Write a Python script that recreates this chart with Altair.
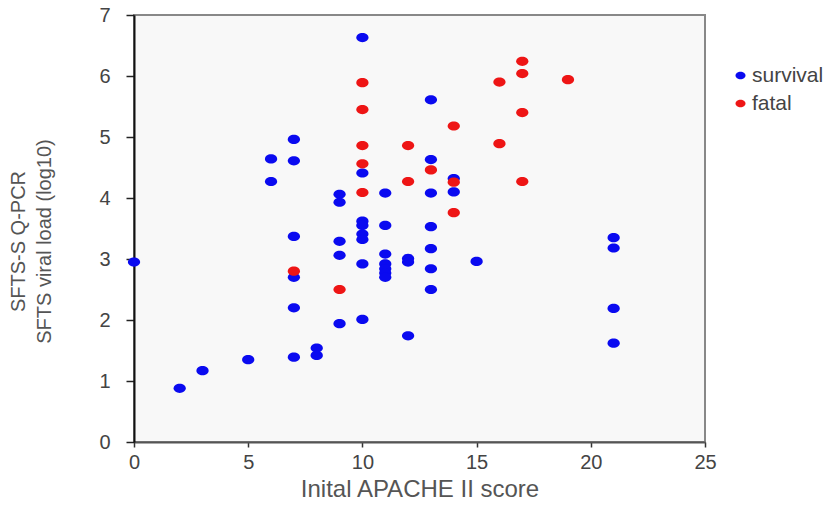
import altair as alt
import pandas as pd

# Survival (blue) points: APACHE II score, viral load (log10)
surv_x = [0, 2, 3, 5, 6, 6, 7, 7, 7, 7, 7, 7, 8, 8, 9, 9, 9, 9, 9,
          10, 10, 10, 10, 10, 10, 10, 10, 11, 11, 11, 11, 11, 11, 11,
          12, 12, 12, 13, 13, 13, 13, 13, 13, 13, 14, 14, 15, 21, 21, 21, 21]
surv_y = [2.95, 0.88, 1.17, 1.35, 4.64, 4.27, 4.96, 4.61, 3.37, 2.70, 2.20, 1.39,
          1.54, 1.42, 4.06, 3.93, 3.29, 3.06, 1.94,
          6.63, 4.41, 3.62, 3.55, 3.41, 3.32, 2.92, 2.01,
          4.08, 3.55, 3.08, 2.92, 2.84, 2.77, 2.70,
          3.01, 2.95, 1.74, 5.61, 4.63, 4.08, 3.53, 3.17, 2.84, 2.50,
          4.32, 4.10, 2.96, 3.35, 3.18, 2.19, 1.62]

# Fatal (red) points
fatal_x = [7, 9, 10, 10, 10, 10, 10, 12, 12, 13, 14, 14, 14, 16, 16, 17, 17, 17, 17, 19]
fatal_y = [2.80, 2.50, 5.89, 5.45, 4.86, 4.56, 4.09, 4.86, 4.27, 4.46, 5.18, 4.26,
           3.76, 5.90, 4.89, 6.24, 6.04, 5.40, 4.27, 5.94]

groups = ["survival", "fatal"]
colors = ["#0a0af0", "#ee1515"]

df = pd.DataFrame({
    "score": surv_x + fatal_x,
    "load": surv_y + fatal_y,
    "group": [groups[0]] * len(surv_x) + [groups[1]] * len(fatal_x),
})

ellipse = "M-1,0 A1,0.75 0 1,0 1,0 A1,0.75 0 1,0 -1,0 Z"
font = "Liberation Sans"

chart = alt.Chart(df).mark_point(
    shape=ellipse, filled=True, size=150, opacity=1
).encode(
    x=alt.X("score:Q", scale=alt.Scale(domain=[0, 25], nice=False),
            axis=alt.Axis(values=[0, 5, 10, 15, 20, 25], title="Inital APACHE II score",
                          grid=False, domainColor="#555", domainWidth=2,
                          tickColor="#333", tickSize=5, tickWidth=1.5,
                          labelFontSize=20, labelColor="#444", labelPadding=5,
                          labelFlush=False,
                          titleFontSize=24, titleColor="#555", titleFontWeight="normal",
                          titlePadding=5, labelFont=font, titleFont=font)),
    y=alt.Y("load:Q", scale=alt.Scale(domain=[0, 7], nice=False),
            axis=alt.Axis(values=[0, 1, 2, 3, 4, 5, 6, 7],
                          title=["SFTS-S Q-PCR", "SFTS viral load (log10)"],
                          grid=False, domainColor="#111", domainWidth=2,
                          tickColor="#222", tickSize=8, tickWidth=1.5,
                          labelFontSize=20, labelColor="#444", labelPadding=16,
                          labelFlush=False,
                          titleFontSize=20, titleColor="#555", titleFontWeight="normal",
                          titleLineHeight=26, titleX=-106, titleY=226,
                          labelFont=font, titleFont=font)),
    color=alt.Color("group:N", scale=alt.Scale(domain=groups, range=colors),
                    legend=alt.Legend(title=None, orient="none", legendX=596, legendY=50,
                                      symbolType=ellipse, symbolSize=100,
                                      labelFontSize=21, labelColor="#444", labelFont=font,
                                      labelOffset=1, rowPadding=6, padding=0)),
).properties(
    width=571, height=427,
    autosize=alt.AutoSizeParams(type="none"),
    padding={"left": 134, "top": 15, "right": 126, "bottom": 64},
    background="white",
).configure_view(
    fill="#f8f8f8", stroke="#888", strokeWidth=2
)

chart.save("out.html", embed_options={"renderer": "svg", "actions": False})
